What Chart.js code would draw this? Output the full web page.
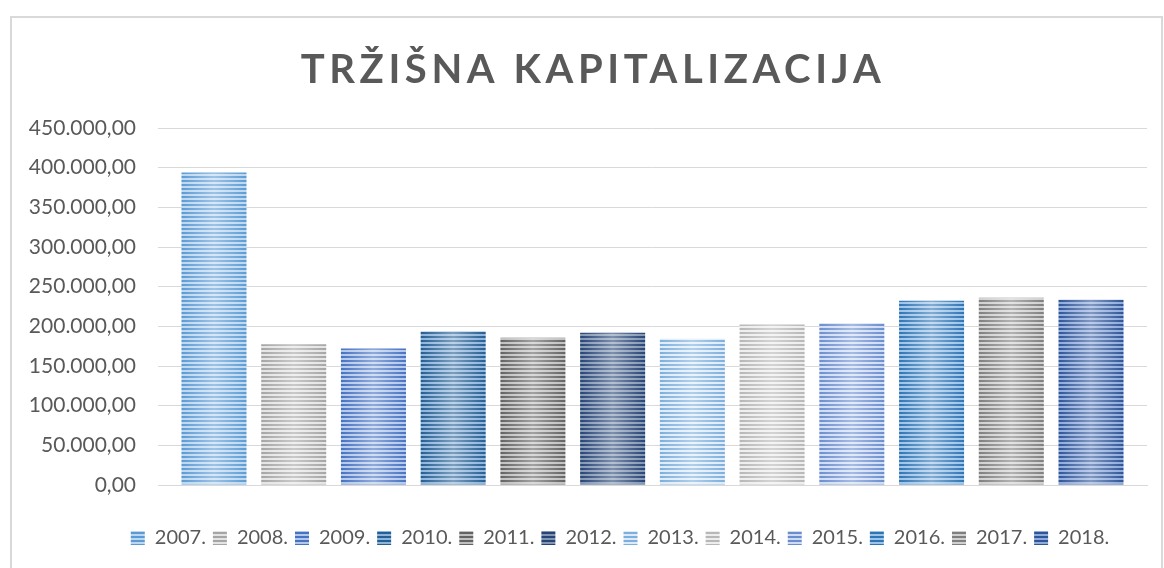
<!DOCTYPE html>
<html>
<head>
<meta charset="utf-8">
<script src="https://cdn.jsdelivr.net/npm/chart.js@4"></script>
<style>
  body { margin: 0; background: #fff; overflow: hidden; }
  .frame { position: absolute; left: 10px; top: 16px; width: 1153px; height: 600px; box-sizing: border-box; border: 2px solid #d9d9d9; }
  #chart { position: absolute; left: 0; top: 0; }
</style>
</head>
<body>
<div class="frame"></div>
<canvas id="chart" width="1164" height="568"></canvas>
<script>
const years = ['2007.', '2008.', '2009.', '2010.', '2011.', '2012.', '2013.', '2014.', '2015.', '2016.', '2017.', '2018.']
const capitalization = [394000, 177500, 172000, 193500, 185500, 192000, 184200, 202300, 204000, 232300, 236100, 233600]
const stripeDark = ['#5b9bd5', '#a5a5a5', '#4472c4', '#255e91', '#636363', '#264478', '#7cafdd', '#b7b7b7', '#698ed0', '#2e75b6', '#7f7f7f', '#2f5597']
const stripeLight = ['#bdd7ee', '#e4e4e4', '#b4c7e7', '#8db4dc', '#c0c0c0', '#8497b0', '#deebf7', '#ededed', '#d0dbf0', '#9dc3e6', '#d0d0d0', '#8faadc']
const titleText = 'TRŽIŠNA KAPITALIZACIJA'

// horizontal stripe fill, 4px period
const stripes = (dark, light) => {
  const c = document.createElement('canvas')
  c.width = 4
  c.height = 4
  const g = c.getContext('2d')
  g.fillStyle = light
  g.fillRect(0, 0, 4, 4)
  g.fillStyle = dark
  g.fillRect(0, 0, 4, 2)
  return g.createPattern(c, 'repeat')
}

const fmt = (v) => {
  const whole = Math.round(v).toString().replace(/\B(?=(\d{3})+(?!\d))/g, '.')
  return whole + ',00'
}

const datasets = years.map((y, i) => ({
  label: y,
  data: [capitalization[i]],
  backgroundColor: stripes(stripeDark[i], stripeLight[i]),
  borderWidth: 0,
  barPercentage: 0.8155,
  categoryPercentage: 0.9674
}))

// lighter sheen in the middle of each bar
const sheen = {
  id: 'sheen',
  afterDatasetsDraw(chart) {
    const ctx = chart.ctx
    chart.data.datasets.forEach((ds, i) => {
      chart.getDatasetMeta(i).data.forEach(el => {
        const { x, y, base, width } = el.getProps(['x', 'y', 'base', 'width'], true)
        const left = x - width / 2
        const grad = ctx.createLinearGradient(left, 0, left + width, 0)
        grad.addColorStop(0, 'rgba(255,255,255,0)')
        grad.addColorStop(0.5, 'rgba(255,255,255,0.4)')
        grad.addColorStop(1, 'rgba(255,255,255,0)')
        ctx.save()
        ctx.fillStyle = grad
        ctx.fillRect(left, y, width, base - y)
        ctx.restore()
      })
    })
  }
}

// legend sits a bit right of the canvas centre in the original
const legendShift = {
  id: 'legendShift',
  afterLayout(chart) {
    const lg = chart.legend
    if (!lg) return
    lg.left += 33
    lg.right += 33
  }
}

// spaced-out title
const spacedTitle = {
  id: 'spacedTitle',
  afterDraw(chart) {
    const ctx = chart.ctx
    ctx.save()
    ctx.font = 'bold 40px Lato'
    ctx.letterSpacing = '4.6px'
    ctx.fillStyle = '#595959'
    ctx.textAlign = 'center'
    ctx.textBaseline = 'middle'
    ctx.fillText(titleText, 593, 70)
    ctx.restore()
  }
}

new Chart(document.getElementById('chart'), {
  type: 'bar',
  data: { labels: [''], datasets: datasets },
  options: {
    responsive: false,
    animation: false,
    layout: { padding: { left: 27, right: 17, top: 128, bottom: 10 } },
    plugins: {
      title: { display: false },
      tooltip: { enabled: false },
      legend: {
        position: 'bottom',
        labels: {
          boxWidth: 14,
          boxHeight: 14,
          padding: 7,
          color: '#595959',
          font: { family: 'Lato', size: 20 }
        }
      }
    },
    scales: {
      x: {
        ticks: { display: false },
        grid: { display: false },
        border: { display: true, color: '#d9d9d9', width: 1 },
        afterFit: (s) => { s.height = 36 }
      },
      y: {
        min: 0,
        max: 450000,
        ticks: {
          stepSize: 50000,
          padding: 22,
          color: '#595959',
          font: { family: 'Lato', size: 21 },
          callback: (v) => fmt(v)
        },
        grid: { color: '#d9d9d9', drawTicks: false },
        border: { display: false },
        afterFit: (s) => { s.width = 131 }
      }
    }
  },
  plugins: [sheen, legendShift, spacedTitle]
})
</script>
</body>
</html>
